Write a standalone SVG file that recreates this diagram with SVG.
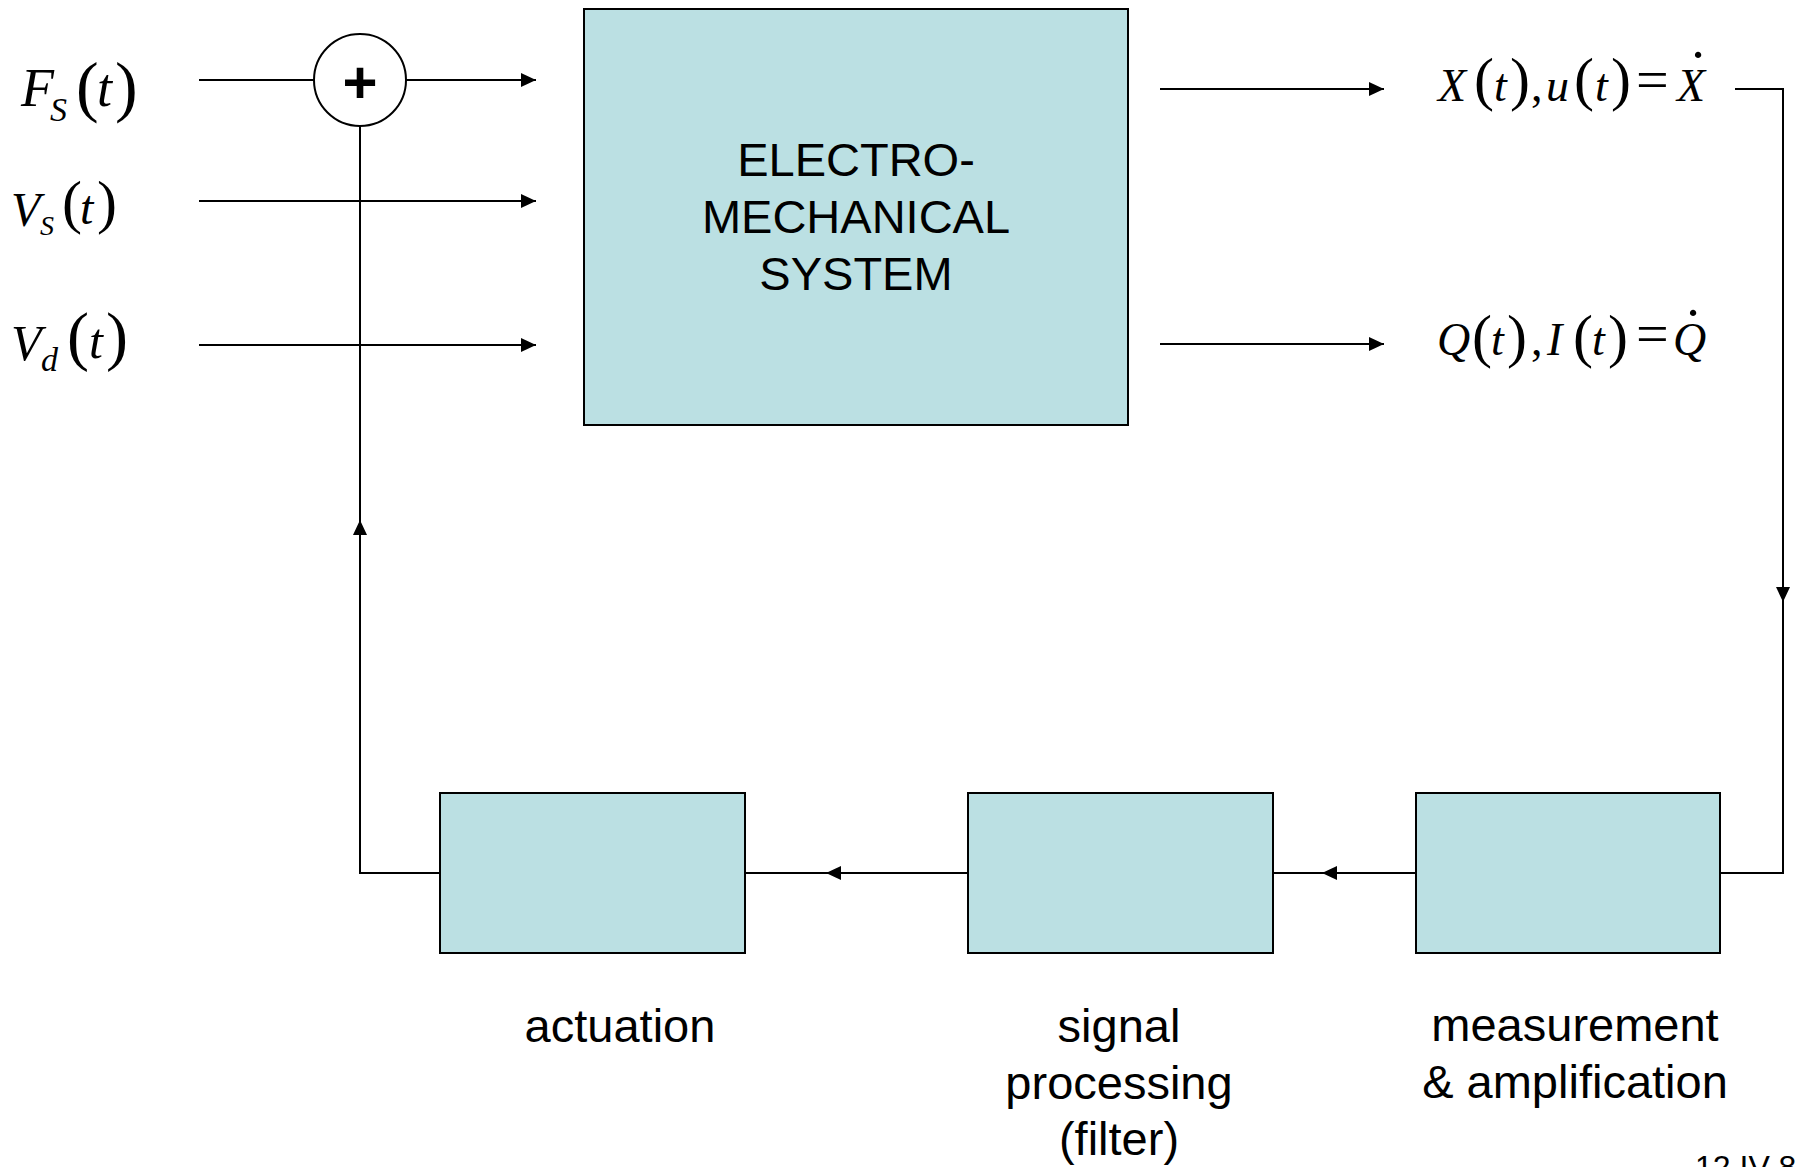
<svg xmlns="http://www.w3.org/2000/svg" width="1796" height="1167" viewBox="0 0 1796 1167">
<style>
.box{fill:#bbe0e3;stroke:#000;stroke-width:2}
.ln{fill:none;stroke:#000;stroke-width:2}
.sans{font-family:"Liberation Sans",Arial,sans-serif;fill:#000}
.big{font-size:47px}
.m{font-family:"Liberation Serif","Times New Roman",serif;fill:#000}
.i{font-style:italic}
</style>
<defs>
<marker id="arr" markerUnits="userSpaceOnUse" markerWidth="16" markerHeight="16" refX="15" refY="7" orient="auto">
<path d="M0,0 L15,7 L0,14 z" fill="#000"/>
</marker>
</defs>
<rect width="1796" height="1167" fill="#fff"/>

<g id="connectors">
<line class="ln" x1="199" y1="80" x2="314" y2="80"/>
<line class="ln" x1="406" y1="80" x2="536" y2="80" marker-end="url(#arr)"/>
<line class="ln" x1="199" y1="201" x2="536" y2="201" marker-end="url(#arr)"/>
<line class="ln" x1="199" y1="345" x2="536" y2="345" marker-end="url(#arr)"/>
<line class="ln" x1="1160" y1="89" x2="1384" y2="89" marker-end="url(#arr)"/>
<line class="ln" x1="1160" y1="344" x2="1384" y2="344" marker-end="url(#arr)"/>
<path class="ln" d="M1735,89 H1783 V602"/>
<line class="ln" x1="1783" y1="560" x2="1783" y2="602" marker-end="url(#arr)"/>
<path class="ln" d="M1783,594 V873 H1720"/>
<line class="ln" x1="1416" y1="873" x2="1322" y2="873" marker-end="url(#arr)"/>
<line class="ln" x1="1322" y1="873" x2="1273" y2="873"/>
<line class="ln" x1="968" y1="873" x2="826" y2="873" marker-end="url(#arr)"/>
<line class="ln" x1="826" y1="873" x2="745" y2="873"/>
<path class="ln" d="M440,873 H360 V520"/>
<line class="ln" x1="360" y1="560" x2="360" y2="520" marker-end="url(#arr)"/>
<line class="ln" x1="360" y1="520" x2="360" y2="126"/>
</g>

<g id="sum">
<circle cx="360" cy="80" r="46" fill="#fff" stroke="#000" stroke-width="2"/>
<text class="sans" x="360" y="103" font-size="60" font-weight="bold" text-anchor="middle">+</text>
</g>

<g id="system">
<rect class="box" x="584" y="9" width="544" height="416"/>
<text class="sans big" text-anchor="middle"><tspan x="856" y="176">ELECTRO-</tspan><tspan x="856" y="233">MECHANICAL</tspan><tspan x="856" y="290">SYSTEM</tspan></text>
</g>

<g id="actuation">
<rect class="box" x="440" y="793" width="305" height="160"/>
<text class="sans big" x="620" y="1042" text-anchor="middle">actuation</text>
</g>

<g id="signal-processing">
<rect class="box" x="968" y="793" width="305" height="160"/>
<text class="sans big" text-anchor="middle"><tspan x="1119" y="1042">signal</tspan><tspan x="1119" y="1099">processing</tspan><tspan x="1119" y="1155">(filter)</tspan></text>
</g>

<g id="measurement">
<rect class="box" x="1416" y="793" width="304" height="160"/>
<text class="sans big" text-anchor="middle"><tspan x="1575" y="1041">measurement</tspan><tspan x="1575" y="1098">&amp; amplification</tspan></text>
</g>

<g id="label-Fs">
<text class="m"><tspan class="i" x="21" y="106" font-size="54">F</tspan><tspan class="i" x="50" y="121" font-size="34">S</tspan><tspan x="76" y="109" font-size="68">(</tspan><tspan class="i" x="97" y="106" font-size="54">t</tspan><tspan x="115" y="109" font-size="68">)</tspan></text>
</g>
<g id="label-Vs">
<text class="m"><tspan class="i" x="11" y="226" font-size="48">V</tspan><tspan class="i" x="40" y="235" font-size="28">S</tspan><tspan x="62" y="222" font-size="60">(</tspan><tspan class="i" x="80" y="224" font-size="48">t</tspan><tspan x="97" y="222" font-size="60">)</tspan></text>
</g>
<g id="label-Vd">
<text class="m"><tspan class="i" x="11" y="360" font-size="50">V</tspan><tspan class="i" x="41" y="371" font-size="34">d</tspan><tspan x="67" y="358" font-size="66">(</tspan><tspan class="i" x="89" y="358" font-size="50">t</tspan><tspan x="106" y="358" font-size="66">)</tspan></text>
</g>
<g id="label-X">
<text class="m"><tspan class="i" x="1438" y="101" font-size="46">X</tspan><tspan x="1474" y="99" font-size="60">(</tspan><tspan class="i" x="1494" y="101" font-size="46">t</tspan><tspan x="1510" y="99" font-size="60">)</tspan><tspan x="1531" y="101" font-size="46">,</tspan><tspan class="i" x="1546" y="101" font-size="46">u</tspan><tspan x="1574" y="99" font-size="60">(</tspan><tspan class="i" x="1595" y="101" font-size="46">t</tspan><tspan x="1611" y="99" font-size="60">)</tspan><tspan x="1636" y="99" font-size="58">=</tspan><tspan class="i" x="1677" y="101" font-size="46">X</tspan><tspan x="1688" y="91" font-size="60">˙</tspan></text>
</g>
<g id="label-Q">
<text class="m"><tspan class="i" x="1437" y="355" font-size="46">Q</tspan><tspan x="1472" y="356" font-size="60">(</tspan><tspan class="i" x="1491" y="355" font-size="46">t</tspan><tspan x="1507" y="356" font-size="60">)</tspan><tspan x="1531" y="355" font-size="46">,</tspan><tspan class="i" x="1547" y="355" font-size="46">I</tspan><tspan x="1573" y="356" font-size="60">(</tspan><tspan class="i" x="1592" y="355" font-size="46">t</tspan><tspan x="1608" y="356" font-size="60">)</tspan><tspan x="1636" y="353" font-size="58">=</tspan><tspan class="i" x="1673" y="355" font-size="46">Q</tspan><tspan x="1683" y="349" font-size="60">˙</tspan></text>
</g>

<text class="sans" x="1695" y="1178" font-size="32">12 IV 8</text>
</svg>
